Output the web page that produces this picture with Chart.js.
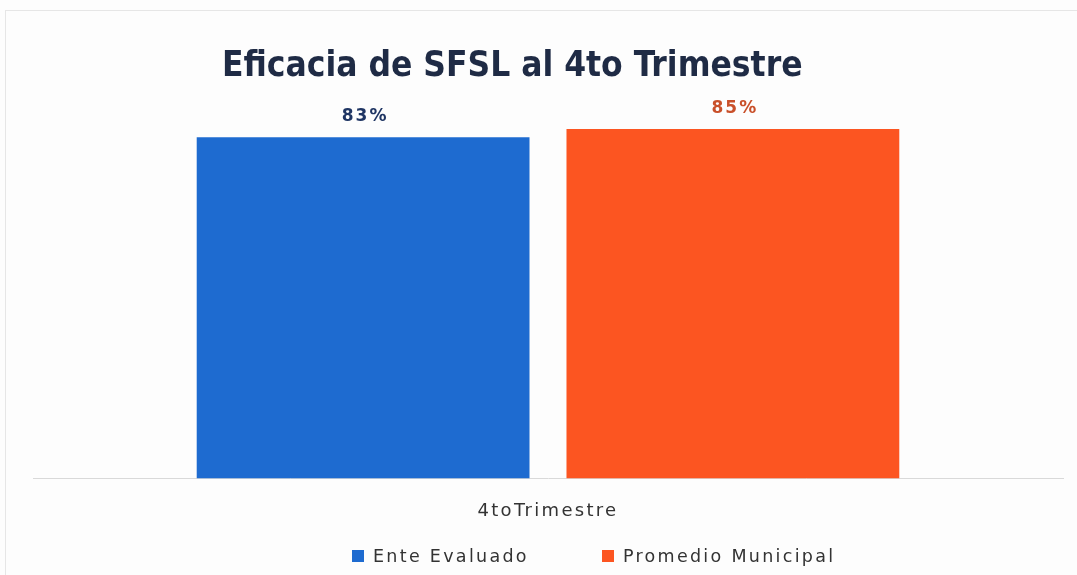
<!DOCTYPE html>
<html>
<head>
<meta charset="utf-8">
<script src="https://cdn.jsdelivr.net/npm/chart.js@4"></script>
<style>
  html, body { margin: 0; padding: 0; background: #fdfdfd; }
  #wrap { position: relative; width: 1077px; height: 575px; overflow: hidden; }
  #frame { position: absolute; left: 5px; top: 10px; width: 1100px; height: 600px; border: 1px solid #e6e6e6; }
  #title { position: absolute; left: 222px; top: 46px; font: bold 35px "DejaVu Sans Condensed", sans-serif; color: #1f2b45; line-height: 36px; white-space: nowrap; }
  #legend { position: absolute; left: 352px; top: 545px; display: flex; font: 17.5px "DejaVu Sans", sans-serif; letter-spacing: 2.3px; color: #333; line-height: 22px; }
  #legend .item { display: flex; align-items: center; margin-right: 73px; }
  #legend .box { width: 12px; height: 12px; margin-right: 9px; }
  canvas { position: absolute; left: 0; top: 0; }
</style>
</head>
<body>
<div id="wrap">
  <div id="frame"></div>
  <canvas id="chart" width="1077" height="575"></canvas>
  <div id="title">Eficacia de SFSL al 4to Trimestre</div>
  <div id="legend"></div>
</div>
<script>
// chart data
const categories = ['4toTrimestre'];
const seriesNames = ['Ente Evaluado', 'Promedio Municipal'];
const enteEvaluado = [83];
const promedioMunicipal = [85];
const barColors = ['#1e6bd0', '#fc5521'];
const labelColors = ['#1f3563', '#c9502a'];

// wider tracking for the category text, like the original
const spacing = {
    id: 'spacing',
    beforeDraw(chart) {
        chart.ctx.letterSpacing = '2.3px';
    }
};

// draw the % labels above each bar
const valueLabels = {
    id: 'valueLabels',
    afterDatasetsDraw(chart) {
        const ctx = chart.ctx;
        ctx.save();
        ctx.letterSpacing = '2px';
        ctx.font = 'bold 17px "DejaVu Sans", sans-serif';
        ctx.textAlign = 'center';
        ctx.textBaseline = 'middle';
        chart.data.datasets.forEach((ds, i) => {
            chart.getDatasetMeta(i).data.forEach((bar, j) => {
                ctx.fillStyle = labelColors[i];
                ctx.fillText(ds.data[j] + '%', bar.x + 2, bar.y - 21);
            });
        });
        ctx.restore();
    }
};

const chart = new Chart(document.getElementById('chart'), {
    type: 'bar',
    data: {
        labels: categories,
        datasets: [
            { label: seriesNames[0], data: enteEvaluado, backgroundColor: barColors[0] },
            { label: seriesNames[1], data: promedioMunicipal, backgroundColor: barColors[1] }
        ]
    },
    options: {
        responsive: false,
        animation: false,
        categoryPercentage: 0.718,
        barPercentage: 0.9,
        layout: { padding: { top: 88, left: 33, right: 14, bottom: 31 } },
        plugins: {
            legend: { display: false },
            title: { display: false },
            tooltip: { enabled: false }
        },
        scales: {
            x: {
                grid: { display: false, drawTicks: false },
                border: { display: true, color: '#d9d9d9', width: 1 },
                ticks: { padding: 22, color: '#333', font: { family: '"DejaVu Sans", sans-serif', size: 18 } }
            },
            y: {
                display: false,
                min: 0,
                max: 95
            }
        }
    },
    plugins: [spacing, valueLabels]
});

// legend built from the datasets
const legendEl = document.getElementById('legend');
chart.data.datasets.forEach(ds => {
    const item = document.createElement('div');
    item.className = 'item';
    const box = document.createElement('span');
    box.className = 'box';
    box.style.background = ds.backgroundColor;
    const txt = document.createElement('span');
    txt.textContent = ds.label;
    item.appendChild(box);
    item.appendChild(txt);
    legendEl.appendChild(item);
});
</script>
</body>
</html>
